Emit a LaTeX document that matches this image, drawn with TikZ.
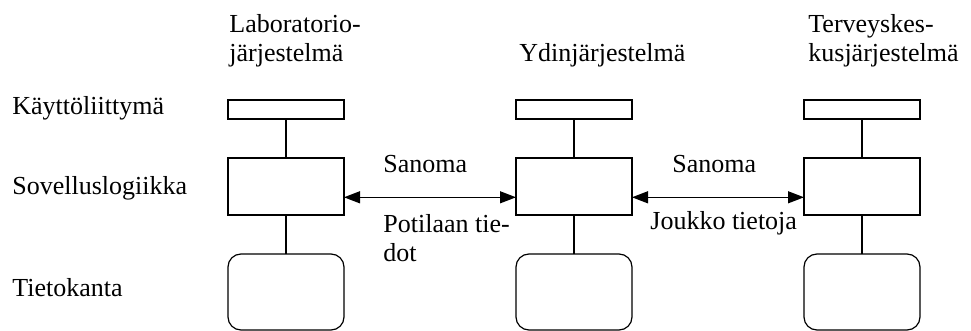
\documentclass[tikz,border=0pt]{standalone}
\usepackage{fontspec}
\setmainfont{Liberation Serif}
\usetikzlibrary{arrows.meta,positioning}

\begin{document}
\begin{tikzpicture}[x=0.5pt,y=-0.5pt,node distance=19.5pt,
  every node/.style={font=\fontsize{13}{14.5}\selectfont},
  ui/.style={draw,line width=0.6pt,outer sep=0pt,inner sep=0pt,minimum width=58pt,minimum height=9.5pt},
  logic/.style={ui,minimum height=28.5pt},
  db/.style={ui,minimum height=38pt,rounded corners=6.5pt},
  link/.style={line width=0.6pt},
  msg/.style={line width=0.6pt,{Triangle[length=8pt,width=6pt]}-{Triangle[length=8pt,width=6pt]}},
  txt/.style={anchor=base west,align=left,inner sep=0pt}]
  \useasboundingbox (0,0) rectangle (971,331);

  % layer names
  \node[txt] (kl) at (12,115) {Käyttöliittymä};
  \node[txt] (sl) at (12,195) {Sovelluslogiikka};
  \node[txt] (tk) at (12,297) {Tietokanta};

  % system headings (base = last line)
  \node[txt] (labh) at (229,62) {Laboratorio-\\järjestelmä};
  \node[txt] (ydinh) at (519,62) {Ydinjärjestelmä};
  \node[txt] (tervh) at (808,62) {Terveyskes-\\kusjärjestelmä};

  % three-tier stacks
  \node[ui] (lab1) at (286,109.5) {};
  \node[logic,below=of lab1] (lab2) {};
  \node[db,below=of lab2] (lab3) {};

  \node[ui] (ydin1) at (574,109.5) {};
  \node[logic,below=of ydin1] (ydin2) {};
  \node[db,below=of ydin2] (ydin3) {};

  \node[ui] (terv1) at (862,109.5) {};
  \node[logic,below=of terv1] (terv2) {};
  \node[db,below=of terv2] (terv3) {};

  \draw[link] (lab1) -- (lab2) (lab2) -- (lab3);
  \draw[link] (ydin1) -- (ydin2) (ydin2) -- (ydin3);
  \draw[link] (terv1) -- (terv2) (terv2) -- (terv3);

  % messages between systems
  \draw[msg] ([yshift=-5.4pt]lab2.east) -- ([yshift=-5.4pt]ydin2.west);
  \draw[msg] ([yshift=-5.4pt]ydin2.east) -- ([yshift=-5.4pt]terv2.west);
  \node[txt] (san1) at (383,173) {Sanoma};
  \node[txt] (pot) at (383,262) {Potilaan tie-\\dot};
  \node[txt] (san2) at (672,173) {Sanoma};
  \node[txt] (jou) at (650,230) {Joukko tietoja};
\end{tikzpicture}
\end{document}
